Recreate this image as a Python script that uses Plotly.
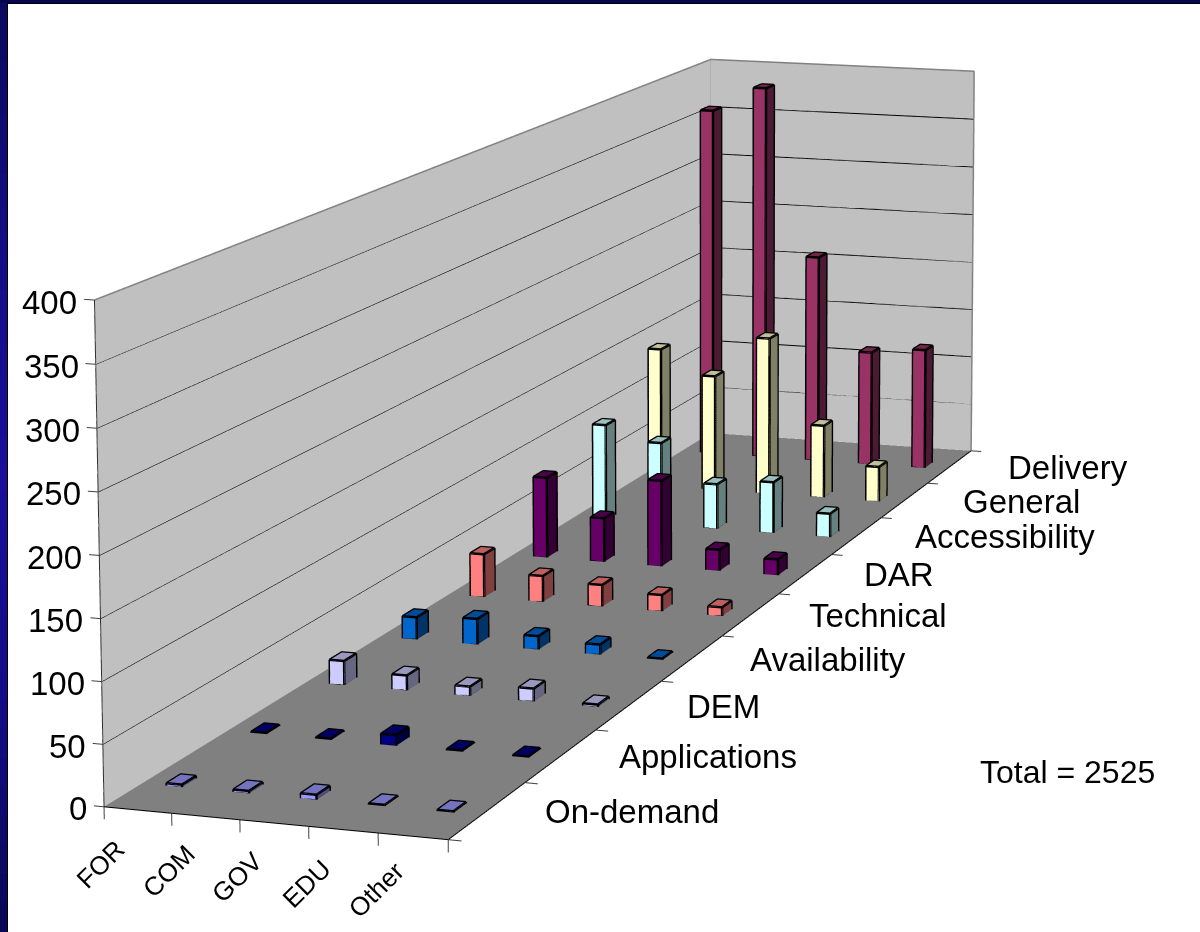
import plotly.graph_objects as go

CATEGORIES = ["FOR", "COM", "GOV", "EDU", "Other"]
SERIES = ["On-demand", "Applications", "DEM", "Availability", "Technical", "DAR", "Accessibility", "General", "Delivery"]
ON_DEMAND = [2, 2, 4, 1, 1]
APPLICATIONS = [1, 1, 9, 1, 1]
DEM = [21, 13, 8, 11, 2]
AVAILABILITY = [20, 23, 12, 9, 1]
TECHNICAL = [40, 24, 20, 15, 8]
DAR = [77, 42, 82, 20, 15]
ACCESSIBILITY = [95, 81, 44, 50, 23]
GENERAL = [140, 116, 158, 73, 35]
DELIVERY = [360, 386, 213, 117, 123]
VALUES = [ON_DEMAND, APPLICATIONS, DEM, AVAILABILITY, TECHNICAL, DAR, ACCESSIBILITY, GENERAL, DELIVERY]
COLORS = ["#9999FF", "#000080", "#CCCCFF", "#0066CC", "#FF8080", "#660066", "#CCFFFF", "#FFFFCC", "#993366"]
Z_TICKS = [0, 50, 100, 150, 200, 250, 300, 350, 400]
TOTAL_LABEL = "Total = 2525"

BAR_W, BAR_D, BAR_SHIFT = 0.23, 0.16, -0.015
# The scene is larger than the window so that the 45 degree lens of the 3D camera
# gives this long, nearly parallel view; the page is then slid up to frame it.
PAGE_W, PAGE_H, PAGE_TOP = 1674, 4054, -1888
ASPECT = (0.1945, 0.9998, 0.2713)
EYE = (1.0069, -2.773, 0.5952)
FORWARD = (-0.29162, 0.94502, -0.14793)
UP = (-0.04732, 0.14021, 0.98899)
FONT = "Liberation Sans"
FLAT = dict(ambient=1, diffuse=0, specular=0, fresnel=0)


def shade(hexcol, k):
    rgb = [int(hexcol[i:i + 2], 16) for i in (1, 3, 5)]
    return "rgb({},{},{})".format(*[round(v * k) for v in rgb])


def polyline(xs, ys, zs, width, color):
    return go.Scatter3d(x=xs, y=ys, z=zs, mode="lines", line=dict(color=color, width=width),
                        hoverinfo="skip", showlegend=False)


def quad(xs, ys, zs, color):
    return go.Mesh3d(x=xs, y=ys, z=zs, i=[0, 0], j=[1, 2], k=[2, 3], color=color, flatshading=True,
                     lighting=FLAT, hoverinfo="skip", showscale=False)


def page_y(p):
    return 1 - (p - PAGE_TOP) / PAGE_H


fig = go.Figure()
nx, ny, top = len(CATEGORIES), len(SERIES), Z_TICKS[-1]

# Walls and floor
fig.add_trace(quad([0, 0, 0, 0], [0, ny, ny, 0], [0, 0, top, top], "#C0C0C0"))
fig.add_trace(quad([0, nx, nx, 0], [ny, ny, ny, ny], [0, 0, top, top], "#C0C0C0"))
fig.add_trace(quad([0, nx, nx, 0], [0, 0, ny, ny], [0, 0, 0, 0], "#808080"))

# Gridlines on both walls, wall outline, floor edges and ticks
gx, gy, gz = [], [], []
for v in Z_TICKS[1:-1]:
    gx += [0, 0, nx, None]
    gy += [0, ny, ny, None]
    gz += [v, v, v, None]
fig.add_trace(polyline(gx, gy, gz, 2, "#000000"))
fig.add_trace(polyline([0, 0, nx, nx, None, 0, 0], [0, ny, ny, ny, None, ny, ny],
                       [top, top, top, 0, None, 0, top], 3, "#808080"))
fig.add_trace(polyline([0, 0], [0, 0], [0, top], 2, "#303030"))
fig.add_trace(polyline([0, nx, nx], [0, 0, ny], [0, 0, 0], 2, "#000000"))
tx, ty, tz = [], [], []
for v in Z_TICKS:
    tx += [0, -0.15, None]
    ty += [0, 0, None]
    tz += [v, v, None]
for i in range(nx + 1):
    tx += [i, i, None]
    ty += [0, 0, None]
    tz += [0, -10, None]
for j in range(ny + 1):
    tx += [nx, nx + 0.19, None]
    ty += [j, j, None]
    tz += [0, 0, None]
fig.add_trace(polyline(tx, ty, tz, 2, "#404040"))

# Columns: one mesh and one edge trace for each series
for row, (name, vals, col) in enumerate(zip(SERIES, VALUES, COLORS)):
    mx, my, mz, fi, fj, fk, fc = [], [], [], [], [], [], []
    ex, ey, ez = [], [], []
    for c, v in enumerate(vals):
        x0, x1 = c + .5 + BAR_SHIFT - BAR_W / 2, c + .5 + BAR_SHIFT + BAR_W / 2
        y0, y1 = row + .5 - BAR_D / 2, row + .5 + BAR_D / 2
        faces = [([(x0, y0, 0), (x1, y0, 0), (x1, y0, v), (x0, y0, v)], 1.0),
                 ([(x1, y0, 0), (x1, y1, 0), (x1, y1, v), (x1, y0, v)], 0.5),
                 ([(x0, y0, v), (x1, y0, v), (x1, y1, v), (x0, y1, v)], 0.75)]
        for corners, k in faces:
            n = len(mx)
            for px, py, pz in corners:
                mx.append(px)
                my.append(py)
                mz.append(pz)
            fi += [n, n]
            fj += [n + 1, n + 2]
            fk += [n + 2, n + 3]
            fc += [shade(col, k)] * 2
        # Front rectangle, then around the side and the top of the column
        ex += [x0, x1, x1, x0, x0, None, x1, x1, x1, x1, None, x1, x0, x0, None]
        ey += [y0, y0, y0, y0, y0, None, y0, y1, y1, y0, None, y1, y1, y0, None]
        ez += [0, 0, v, v, 0, None, 0, 0, v, v, None, v, v, v, None]
    fig.add_trace(go.Mesh3d(x=mx, y=my, z=mz, i=fi, j=fj, k=fk, facecolor=fc, flatshading=True, name=name,
                            lighting=FLAT, hoverinfo="skip", showscale=False))
    fig.add_trace(polyline(ex, ey, ez, 5, "#000000"))

# Axis labels are tied to the data positions of their ticks
notes = []
for v in Z_TICKS:
    notes.append(dict(x=0, y=0, z=v, text=str(v), showarrow=False, xanchor="right", yanchor="middle",
                      xshift=-15, yshift=-2, font=dict(family=FONT, size=33, color="#000000")))
for i, name in enumerate(CATEGORIES):
    notes.append(dict(x=i + .5, y=0, z=0, text=name, showarrow=False, xanchor="center", yanchor="middle",
                      textangle=-45, xshift=-37, yshift=-54, font=dict(family=FONT, size=26, color="#000000")))
for j, name in enumerate(SERIES):
    notes.append(dict(x=nx, y=j + .5, z=0, text=name, showarrow=False, xanchor="left", yanchor="middle",
                      xshift=56, yshift=-1, font=dict(family=FONT, size=33, color="#000000")))

# Slide border: a dark top strip and a left strip that brightens towards the middle
shapes = []
STOPS = [(0, "#0a0a60"), (232, "#140d85"), (464, "#1a0f9a"), (700, "#130c85"), (932, "#080850")]
for (a0, c0), (a1, c1) in zip(STOPS, STOPS[1:]):
    for s in range(8):
        ya = a0 + (a1 - a0) * s // 8
        yb = a0 + (a1 - a0) * (s + 1) // 8 + 1
        ca = [int(c0[i:i + 2], 16) + (int(c1[i:i + 2], 16) - int(c0[i:i + 2], 16)) * s / 8 for i in (1, 3, 5)]
        tint = "rgb({:.0f},{:.0f},{:.0f})".format(*ca)
        shapes.append(dict(type="rect", xref="paper", yref="paper", x0=0, x1=7 / PAGE_W, y0=page_y(ya), y1=page_y(yb),
                           fillcolor=tint, line=dict(color=tint, width=1)))
shapes.append(dict(type="rect", xref="paper", yref="paper", x0=0, x1=1200 / PAGE_W, y0=page_y(0), y1=page_y(3),
                   fillcolor="#060650", line_width=0))
shapes.append(dict(type="line", xref="paper", yref="paper", x0=7.5 / PAGE_W, x1=7.5 / PAGE_W, y0=page_y(3),
                   y1=page_y(932), line=dict(color="#000000", width=1)))
shapes.append(dict(type="line", xref="paper", yref="paper", x0=7 / PAGE_W, x1=1200 / PAGE_W, y0=page_y(3.5),
                   y1=page_y(3.5), line=dict(color="#000000", width=1)))

fig.update_layout(
    width=PAGE_W, height=PAGE_H, margin=dict(l=0, r=0, t=0, b=0), paper_bgcolor="#FFFFFF", showlegend=False,
    shapes=shapes,
    annotations=[dict(xref="paper", yref="paper", x=978 / PAGE_W, y=page_y(772), text=TOTAL_LABEL, showarrow=False,
                      xanchor="left", yanchor="middle", font=dict(family=FONT, size=32, color="#000000"))],
    scene=dict(
        domain=dict(x=[0, 1], y=[0, 1]), bgcolor="rgba(0,0,0,0)",
        xaxis=dict(visible=False, range=[-0.5, nx + 0.5]),
        yaxis=dict(visible=False, range=[0, ny]),
        zaxis=dict(visible=False, range=[-30, top + 30]),
        aspectmode="manual",
        aspectratio=dict(x=ASPECT[0] * (nx + 1) / nx, y=ASPECT[1], z=ASPECT[2] * (top + 60) / top),
        camera=dict(eye=dict(x=EYE[0], y=EYE[1], z=EYE[2]),
                    center=dict(x=EYE[0] + FORWARD[0] * 6, y=EYE[1] + FORWARD[1] * 6, z=EYE[2] + FORWARD[2] * 6),
                    up=dict(x=UP[0], y=UP[1], z=UP[2]), projection=dict(type="perspective")),
        annotations=notes,
    ),
)
fig.write_html("out.html", post_script=(
    "var gd=document.getElementById('{plot_id}');gd.style.position='absolute';gd.style.left='0px';"
    "gd.style.top='%dpx';document.documentElement.style.overflow='hidden';document.body.style.overflow='hidden';" % PAGE_TOP))
